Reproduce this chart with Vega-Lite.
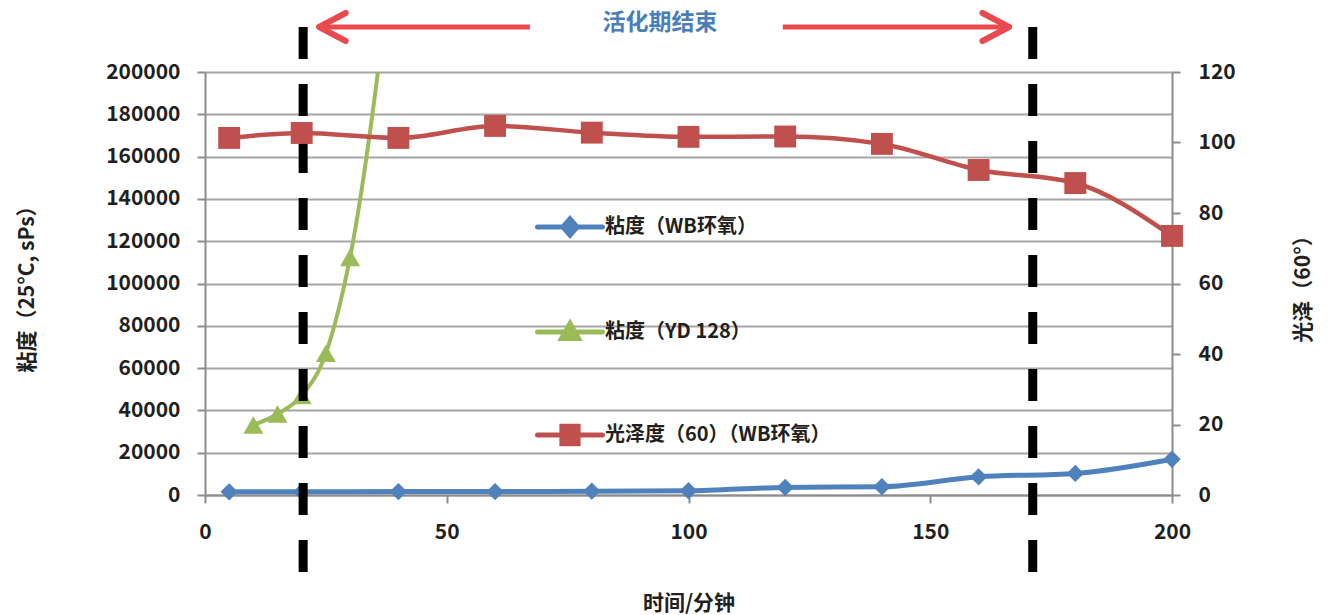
{
  "$schema": "https://vega.github.io/schema/vega-lite/v6.json",
  "width": 967,
  "height": 423,
  "autosize": {"type": "none"},
  "padding": {"left": 205, "top": 72, "right": 157, "bottom": 120},
  "background": "white",
  "config": {
    "font": "Noto Sans CJK SC",
    "view": {"stroke": null},
    "axis": {
      "labelFont": "Noto Sans CJK SC",
      "labelFontWeight": "bold",
      "labelFontSize": 21,
      "labelColor": "#231f20",
      "titleFont": "Noto Sans CJK SC",
      "titleFontSize": 21,
      "titleFontWeight": "bold",
      "titleColor": "#231f20",
      "domainColor": "#8c8c8c",
      "domainWidth": 2,
      "tickColor": "#8c8c8c",
      "tickWidth": 2,
      "tickSize": 8,
      "gridColor": "#a6a6a6",
      "gridWidth": 2
    }
  },
  "datasets": {
    "series": [
      {"series": "粘度（WB环氧）", "time": 5, "value": 1500},
      {"series": "粘度（WB环氧）", "time": 20, "value": 1500},
      {"series": "粘度（WB环氧）", "time": 40, "value": 1600},
      {"series": "粘度（WB环氧）", "time": 60, "value": 1600},
      {"series": "粘度（WB环氧）", "time": 80, "value": 1800},
      {"series": "粘度（WB环氧）", "time": 100, "value": 2000},
      {"series": "粘度（WB环氧）", "time": 120, "value": 3600},
      {"series": "粘度（WB环氧）", "time": 140, "value": 3900},
      {"series": "粘度（WB环氧）", "time": 160, "value": 8600},
      {"series": "粘度（WB环氧）", "time": 180, "value": 10200},
      {"series": "粘度（WB环氧）", "time": 200, "value": 16900},
      {"series": "粘度（YD 128）", "time": 10, "value": 33100},
      {"series": "粘度（YD 128）", "time": 15, "value": 38300},
      {"series": "粘度（YD 128）", "time": 20, "value": 47000},
      {"series": "粘度（YD 128）", "time": 25, "value": 67000},
      {"series": "粘度（YD 128）", "time": 30, "value": 112300},
      {"series": "粘度（YD 128）", "time": 40, "value": 280000},
      {"series": "光泽度（60）（WB环氧）", "time": 5, "value": 101.3},
      {"series": "光泽度（60）（WB环氧）", "time": 20, "value": 102.7},
      {"series": "光泽度（60）（WB环氧）", "time": 40, "value": 101.3},
      {"series": "光泽度（60）（WB环氧）", "time": 60, "value": 104.7},
      {"series": "光泽度（60）（WB环氧）", "time": 80, "value": 102.8},
      {"series": "光泽度（60）（WB环氧）", "time": 100, "value": 101.6},
      {"series": "光泽度（60）（WB环氧）", "time": 120, "value": 101.7},
      {"series": "光泽度（60）（WB环氧）", "time": 140, "value": 99.6},
      {"series": "光泽度（60）（WB环氧）", "time": 160, "value": 92.2},
      {"series": "光泽度（60）（WB环氧）", "time": 180, "value": 88.5},
      {"series": "光泽度（60）（WB环氧）", "time": 200, "value": 73.5}
    ]
  },
  "data": {"name": "series"},
  "layer": [
    {
      "encoding": {
        "x": {
          "field": "time", "type": "quantitative",
          "scale": {"domain": [0, 200], "nice": false, "zero": false},
          "axis": {"values": [0, 50, 100, 150, 200], "grid": false, "ticks": true, "labelFlush": false, "title": "时间/分钟", "labelPadding": 18, "titlePadding": 50}
        },
        "y": {
          "field": "value", "type": "quantitative",
          "scale": {"domain": [0, 200000], "nice": false},
          "axis": {
            "values": [0, 20000, 40000, 60000, 80000, 100000, 120000, 140000, 160000, 180000, 200000],
            "format": "d", "grid": true, "labelPadding": 17,
            "title": "粘度（25°C, sPs）", "titlePadding": 68
          }
        }
      },
      "layer": [
        {
          "transform": [{"filter": "datum.series === '粘度（WB环氧）'"}],
          "mark": {"type": "line", "interpolate": "monotone", "strokeWidth": 5, "strokeCap": "round"},
          "encoding": {"color": {"field": "series", "type": "nominal"}}
        },
        {
          "transform": [{"filter": "datum.series === '粘度（WB环氧）'"}],
          "mark": {"type": "point", "shape": "diamond", "size": 300, "filled": true, "opacity": 1},
          "encoding": {"color": {"field": "series", "type": "nominal"}}
        },
        {
          "transform": [{"filter": "datum.series === '粘度（YD 128）'"}],
          "mark": {"type": "line", "interpolate": "monotone", "strokeWidth": 4, "clip": true},
          "encoding": {"color": {"field": "series", "type": "nominal"}}
        },
        {
          "transform": [{"filter": "datum.series === '粘度（YD 128）'"}],
          "mark": {"type": "point", "shape": "triangle-up", "size": 400, "filled": true, "opacity": 1, "clip": true},
          "encoding": {"color": {"field": "series", "type": "nominal"}}
        },
        {
          "transform": [{"filter": "datum.series === '粘度（WB环氧）' && datum.time === 5"}],
          "mark": {"type": "rule", "color": "#000000", "strokeWidth": 9, "strokeDash": [32, 25]},
          "encoding": {
            "x": {"datum": 20.3, "type": "quantitative"},
            "y": {"datum": 221277, "type": "quantitative"},
            "y2": {"datum": -36407}
          }
        },
        {
          "transform": [{"filter": "datum.series === '粘度（WB环氧）' && datum.time === 5"}],
          "mark": {"type": "rule", "color": "#000000", "strokeWidth": 9, "strokeDash": [32, 25]},
          "encoding": {
            "x": {"datum": 171.2, "type": "quantitative"},
            "y": {"datum": 221277, "type": "quantitative"},
            "y2": {"datum": -36407}
          }
        },
        {
          "transform": [{"filter": "datum.series === '粘度（WB环氧）' && datum.time === 5"}],
          "mark": {"type": "rule", "color": "#e84a4f", "strokeWidth": 5},
          "encoding": {
            "x": {"datum": 23.8, "type": "quantitative"},
            "x2": {"datum": 67.2},
            "y": {"datum": 221277, "type": "quantitative"}
          }
        },
        {
          "transform": [{"filter": "datum.series === '粘度（WB环氧）' && datum.time === 5"}],
          "mark": {"type": "rule", "color": "#e84a4f", "strokeWidth": 5},
          "encoding": {
            "x": {"datum": 119.5, "type": "quantitative"},
            "x2": {"datum": 166.1},
            "y": {"datum": 221277, "type": "quantitative"}
          }
        },
        {
          "transform": [{"filter": "datum.series === '粘度（WB环氧）' && datum.time === 5"}],
          "mark": {"type": "point", "shape": "M1.9,-1L0,0L1.9,1", "size": 784, "filled": false, "strokeWidth": 6, "color": "#e84a4f", "strokeCap": "round", "strokeJoin": "round", "opacity": 1},
          "encoding": {
            "x": {"datum": 23.6, "type": "quantitative"},
            "y": {"datum": 221277, "type": "quantitative"}
          }
        },
        {
          "transform": [{"filter": "datum.series === '粘度（WB环氧）' && datum.time === 5"}],
          "mark": {"type": "point", "shape": "M-1.9,-1L0,0L-1.9,1", "size": 784, "filled": false, "strokeWidth": 6, "color": "#e84a4f", "strokeCap": "round", "strokeJoin": "round", "opacity": 1},
          "encoding": {
            "x": {"datum": 166.3, "type": "quantitative"},
            "y": {"datum": 221277, "type": "quantitative"}
          }
        },
        {
          "transform": [{"filter": "datum.series === '粘度（WB环氧）' && datum.time === 5"}],
          "mark": {"type": "text", "text": "活化期结束", "fontSize": 23, "fontWeight": "bold", "color": "#4a7ebb", "baseline": "middle", "align": "center"},
          "encoding": {
            "x": {"datum": 94.1, "type": "quantitative"},
            "y": {"datum": 223000, "type": "quantitative"}
          }
        }
      ]
    },
    {
      "transform": [{"filter": "datum.series === '光泽度（60）（WB环氧）'"}],
      "encoding": {
        "x": {"field": "time", "type": "quantitative", "scale": {"domain": [0, 200], "nice": false, "zero": false}},
        "y": {
          "field": "value", "type": "quantitative",
          "scale": {"domain": [0, 120], "nice": false},
          "axis": {
            "orient": "right", "values": [0, 20, 40, 60, 80, 100, 120], "grid": false,
            "labelPadding": 18, "title": "光泽（60°）", "titleAngle": 270, "titlePadding": 78
          }
        },
        "color": {
          "field": "series", "type": "nominal",
          "scale": {
            "domain": ["粘度（WB环氧）", "粘度（YD 128）", "光泽度（60）（WB环氧）"],
            "range": ["#4f81bd", "#9bbb59", "#c0504d"]
          },
          "legend": {
            "orient": "none", "legendX": 330, "legendY": 120, "title": null,
            "rowPadding": 51, "symbolSize": 4225, "labelFontSize": 20, "labelFontWeight": "bold",
            "labelColor": "#231f20", "labelOffset": 0, "labelLimit": 400, "labelFont": "Noto Sans CJK SC",
            "encode": {
              "symbols": {
                "update": {
                  "shape": {"signal": "datum.index === 0 ? 'M-1,0L1,0M0,-0.25L0.22,0L0,0.25L-0.22,0Z' : datum.index === 1 ? 'M-1,0L1,0M0,-0.26L0.26,0.2L-0.26,0.2Z' : 'M-1,0L1,0M-0.25,-0.27L0.25,-0.27L0.25,0.27L-0.25,0.27Z'"},
                  "fill": {"signal": "scale('color', datum.value)"},
                  "stroke": {"signal": "scale('color', datum.value)"},
                  "strokeWidth": {"value": 5},
                  "strokeCap": {"value": "round"},
                  "opacity": {"value": 1},
                  "fillOpacity": {"value": 1}
                }
              }
            }
          }
        }
      },
      "layer": [
        {"mark": {"type": "line", "interpolate": "monotone", "strokeWidth": 4.5}},
        {"mark": {"type": "point", "shape": "square", "size": 480, "filled": true, "opacity": 1}}
      ]
    }
  ],
  "resolve": {"scale": {"y": "independent"}}
}
